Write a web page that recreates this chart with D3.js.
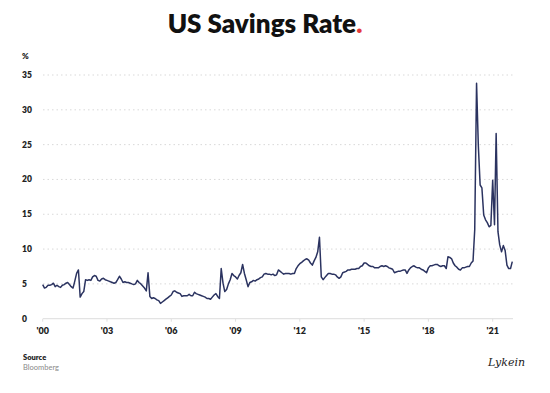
<!DOCTYPE html>
<html>
<head>
	<title> US Savings Rate </title>
	<script src="https://d3js.org/d3.v7.min.js"></script>
	<style>
		body { margin: 0; background: #fff; }
		text { font-family: Lato, "Open Sans", sans-serif; }
	</style>
</head>
<body>
	<svg width="550" height="393"></svg>
	<script type="text/javascript">
		// monthly personal saving rate, Jan 2000 .. Dec 2021
		let rate2000s = [
			4.9, 4.4, 4.5, 4.8, 4.8, 4.9, 5.1, 4.6, 4.8, 4.6, 4.5, 4.8,   // 2000
			4.9, 5.1, 5.2, 4.9, 4.6, 4.4, 5.4, 6.5, 7.0, 3.1, 3.6, 3.9,   // 2001
			5.6, 5.5, 5.6, 5.5, 6.0, 6.2, 6.1, 5.5, 5.4, 5.7, 5.8, 5.6,   // 2002
			5.5, 5.4, 5.3, 5.2, 5.1, 5.2, 5.6, 6.1, 5.7, 5.2, 5.3, 5.2,   // 2003
			5.2, 5.1, 5.0, 4.9, 5.0, 5.5, 5.2, 5.0, 4.7, 4.4, 4.0, 6.6,   // 2004
			3.2, 2.9, 3.0, 2.9, 2.7, 2.6, 2.2, 2.4, 2.6, 2.8, 3.0, 3.2,   // 2005
			3.4, 3.9, 4.0, 3.8, 3.7, 3.6, 3.2, 3.3, 3.3, 3.3, 3.5, 3.3,   // 2006
			3.3, 3.8, 3.6, 3.5, 3.4, 3.3, 3.2, 3.1, 2.9, 2.9, 2.8, 3.1,   // 2007
			3.4, 3.6, 3.2, 2.9, 7.2, 5.1, 3.9, 4.2, 5.0, 5.6, 6.5, 6.2,   // 2008
			6.0, 5.7, 6.2, 6.6, 7.8, 6.5, 5.6, 4.6, 5.2, 5.3, 5.5, 5.4    // 2009
		];
		let rate2010s = [
			5.6, 5.7, 5.9, 6.0, 6.4, 6.5, 6.4, 6.4, 6.3, 6.4, 6.2, 6.3,   // 2010
			7.0, 6.8, 6.6, 6.4, 6.5, 6.5, 6.5, 6.4, 6.5, 6.5, 7.2, 7.6,   // 2011
			7.9, 8.1, 8.3, 8.5, 8.6, 8.4, 8.0, 7.7, 8.3, 8.8, 9.6, 11.7,  // 2012
			6.0, 5.6, 5.9, 6.2, 6.5, 6.5, 6.4, 6.4, 6.3, 6.0, 5.8, 6.0,   // 2013
			6.6, 6.7, 6.8, 7.0, 7.0, 7.1, 7.1, 7.1, 7.2, 7.2, 7.5, 7.6,   // 2014
			8.0, 8.0, 7.8, 7.6, 7.5, 7.5, 7.3, 7.3, 7.3, 7.5, 7.6, 7.5,   // 2015
			7.6, 7.5, 7.3, 7.2, 7.1, 6.6, 6.7, 6.8, 6.8, 6.9, 7.0, 7.0,   // 2016
			6.5, 7.0, 7.3, 7.5, 7.6, 7.4, 7.3, 7.3, 7.1, 7.0, 6.8, 6.6,   // 2017
			7.3, 7.6, 7.6, 7.7, 7.8, 7.8, 7.6, 7.5, 7.6, 7.6, 7.2, 8.9,   // 2018
			8.8, 8.6, 8.0, 7.6, 7.4, 7.1, 7.0, 7.3, 7.3, 7.4, 7.5, 7.5    // 2019
		];
		let rate2020s = [
			8.0, 8.3, 12.8, 33.8, 24.9, 19.2, 18.8, 14.9, 14.2, 13.8, 13.2, 13.4,  // 2020
			19.9, 13.5, 26.6, 12.5, 10.6, 9.6, 10.5, 9.8, 7.7, 7.2, 7.2, 8.2       // 2021
		];
		let yTicks = [0, 5, 10, 15, 20, 25, 30, 35];
		let xTickYears = [2000, 2003, 2006, 2009, 2012, 2015, 2018, 2021];
		let xTickLabels = ["'00", "'03", "'06", "'09", "'12", "'15", "'18", "'21"];

		let values = rate2000s.concat(rate2010s, rate2020s);
		let start = new Date(2000, 0, 1);
		let data = values.map(function(v, i) {
			return { date: d3.timeMonth.offset(start, i), value: v };
		});

		let svg = d3.select("svg");
		let x = d3.scaleTime()
			.domain([new Date(2000, 0, 1), new Date(2022, 0, 1)])
			.range([42.7, 514.1]);
		let y = d3.scaleLinear().domain([0, 35]).range([318.7, 75]);

		// title
		let title = svg.append("text")
			.attr("x", 265).attr("y", 33)
			.attr("text-anchor", "middle")
			.style("font-size", "26px").style("font-weight", 800).style("fill", "#111");
		title.append("tspan").text("US Savings Rate");
		title.append("tspan").text(".").style("fill", "#e5383b");

		// grid lines
		svg.append("g").selectAll("line")
			.data(yTicks.filter(function(d) { return d > 0; }))
			.enter().append("line")
			.attr("x1", 43).attr("x2", 513)
			.attr("y1", function(d) { return y(d); })
			.attr("y2", function(d) { return y(d); })
			.style("stroke", "#d9d9d9").style("stroke-width", 1)
			.style("stroke-dasharray", "1.5,3");

		// baseline
		svg.append("line")
			.attr("x1", 43).attr("x2", 513)
			.attr("y1", y(0)).attr("y2", y(0))
			.style("stroke", "#e3e3e3").style("stroke-width", 1.2);

		// y labels
		svg.append("g").selectAll("text")
			.data(yTicks).enter().append("text")
			.attr("x", 22)
			.attr("y", function(d) { return y(d) + 3; })
			.text(function(d) { return d; })
			.style("font-size", "8.5px").style("font-weight", 800).style("fill", "#222");
		svg.append("text").attr("x", 22).attr("y", 59).text("%")
			.style("font-size", "8px").style("font-weight", 800).style("fill", "#222");

		// x ticks and labels
		let xt = svg.append("g").selectAll("g")
			.data(xTickYears).enter().append("g")
			.attr("transform", function(d) { return "translate(" + x(new Date(d, 0, 1)) + ",0)"; });
		xt.append("line")
			.attr("y1", y(0)).attr("y2", y(0) + 3)
			.style("stroke", "#e0e0e0");
		xt.append("text")
			.attr("y", 334).attr("text-anchor", "middle")
			.text(function(d, i) { return xTickLabels[i]; })
			.style("font-size", "9px").style("font-weight", 800).style("fill", "#222");

		// the series
		let line = d3.line()
			.x(function(d) { return x(d.date); })
			.y(function(d) { return y(d.value); });
		svg.append("path")
			.datum(data)
			.attr("d", line)
			.style("fill", "none")
			.style("stroke", "#2b3360")
			.style("stroke-width", 1.5)
			.style("stroke-linejoin", "round");

		// footer
		svg.append("text").attr("x", 23).attr("y", 360).text("Source")
			.style("font-size", "7.5px").style("font-weight", 800).style("fill", "#222");
		svg.append("text").attr("x", 23).attr("y", 370).text("Bloomberg")
			.style("font-size", "7.5px").style("fill", "#8a8a8a");
		svg.append("text").attr("x", 488).attr("y", 366).text("Lykein")
			.style("font-family", "'DejaVu Serif', serif")
			.style("font-size", "11px").style("font-style", "italic")
			.style("font-weight", 300).style("fill", "#222");
	</script>
</body>
</html>
